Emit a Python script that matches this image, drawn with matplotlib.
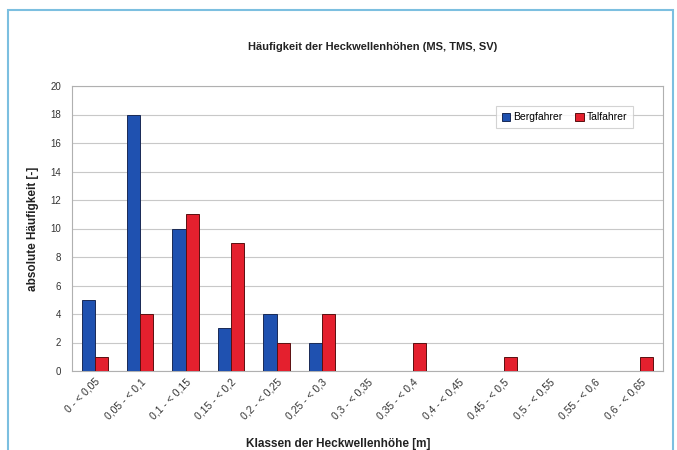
import matplotlib
matplotlib.use("Agg")
import matplotlib.pyplot as plt
import numpy as np
from matplotlib.patches import Rectangle

classes = ["0 - < 0,05", "0,05 - < 0,1", "0,1 - < 0,15", "0,15 - < 0,2",
           "0,2 - < 0,25", "0,25 - < 0,3", "0,3 - < 0,35", "0,35 - < 0,4",
           "0,4 - < 0,45", "0,45 - < 0,5", "0,5 - < 0,55", "0,55 - < 0,6",
           "0,6 - < 0,65"]
bergfahrer = [5, 18, 10, 3, 4, 2, 0, 0, 0, 0, 0, 0, 0]
talfahrer = [1, 4, 11, 9, 2, 4, 0, 2, 0, 1, 0, 0, 1]

plt.rcParams["font.family"] = ["Liberation Sans", "DejaVu Sans"]

fig = plt.figure(figsize=(6.77, 4.5), dpi=100)
fig.patches.append(Rectangle((8 / 677, -0.1), 665 / 677, 1.1 - 10 / 450,
                             transform=fig.transFigure, fill=False,
                             edgecolor="#7cbfe0", linewidth=1.5))

ax = fig.add_axes([72 / 677, 1 - 371 / 450, 591 / 677, 285 / 450])
x = np.arange(len(classes))
w = 0.29
ax.bar(x - w / 2, bergfahrer, w, color="#1f51b0", edgecolor="#1a2a55",
       linewidth=0.7, label="Bergfahrer", zorder=3)
ax.bar(x + w / 2, talfahrer, w, color="#e4202e", edgecolor="#5a1010",
       linewidth=0.7, label="Talfahrer", zorder=3)

ax.set_xlim(-0.5, len(classes) - 0.5)
ax.set_ylim(0, 20)
ax.set_yticks(range(0, 21, 2))
ax.set_xticks(x)
ax.set_xticklabels(classes, rotation=45, ha="right", rotation_mode="anchor",
                   fontsize=7.5, color="#333333")
ax.tick_params(axis="y", labelsize=7, labelcolor="#333333", length=0, pad=8)
ax.tick_params(axis="x", length=0, pad=4)
ax.grid(axis="y", color="#c8c8c8", linewidth=0.8, zorder=0)
for s in ax.spines.values():
    s.set_color("#b0b0b0")
    s.set_linewidth(0.8)

ax.set_ylabel("absolute Häufigkeit [-]", fontsize=8.5, fontweight="bold",
              color="#222222", labelpad=8)
fig.text(0.5, 1 - 444 / 450, "Klassen der Heckwellenhöhe [m]", ha="center",
         va="center", fontsize=8.5, fontweight="bold", color="#222222")
fig.text(0.551, 1 - 47 / 450, "Häufigkeit der Heckwellenhöhen (MS, TMS, SV)",
         ha="center", va="center", fontsize=8, fontweight="bold",
         color="#222222")

leg = ax.legend(loc="upper right", bbox_to_anchor=(0.95, 0.93), ncol=2,
                fontsize=7.5, frameon=True, fancybox=False, handlelength=0.8,
                handleheight=0.8, handletextpad=0.3, columnspacing=1.2,
                borderpad=0.6, borderaxespad=0)
leg.get_frame().set_edgecolor("#c8c8c8")
leg.get_frame().set_linewidth(0.8)

fig.savefig("out.png", dpi=100)
